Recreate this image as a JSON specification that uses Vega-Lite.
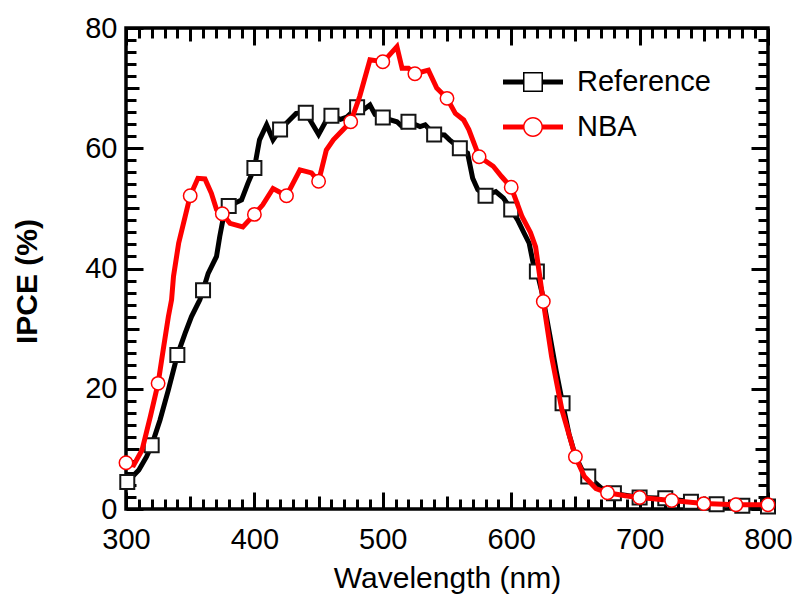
{
  "$schema": "https://vega.github.io/schema/vega-lite/v6.json",
  "width": 642,
  "height": 481,
  "autosize": "none",
  "padding": {"left": 126, "top": 28, "right": 29, "bottom": 87},
  "background": "white",
  "config": {
    "view": {"stroke": "black", "strokeWidth": 3.5},
    "axis": {
      "grid": false,
      "domain": false,
      "tickColor": "black",
      "tickWidth": 3,
      "labelFont": "Liberation Sans",
      "labelFontSize": 29,
      "labelColor": "black",
      "titleFont": "Liberation Sans",
      "titleColor": "black",
      "labelFlush": false,
      "labelOverlap": false
    }
  },
  "datasets": {
    "lines": [
      {"series": "Reference", "wavelength": 301, "ipce": 4.5},
      {"series": "Reference", "wavelength": 310, "ipce": 6.5},
      {"series": "Reference", "wavelength": 316, "ipce": 8.7},
      {"series": "Reference", "wavelength": 320, "ipce": 10.6},
      {"series": "Reference", "wavelength": 326.5, "ipce": 14.8},
      {"series": "Reference", "wavelength": 333, "ipce": 19.8},
      {"series": "Reference", "wavelength": 340, "ipce": 25.6},
      {"series": "Reference", "wavelength": 346, "ipce": 29.2},
      {"series": "Reference", "wavelength": 351, "ipce": 32},
      {"series": "Reference", "wavelength": 357.5, "ipce": 34.8},
      {"series": "Reference", "wavelength": 360, "ipce": 36.4},
      {"series": "Reference", "wavelength": 364, "ipce": 39.2},
      {"series": "Reference", "wavelength": 370.5, "ipce": 42},
      {"series": "Reference", "wavelength": 373, "ipce": 45.3},
      {"series": "Reference", "wavelength": 375.5, "ipce": 48.1},
      {"series": "Reference", "wavelength": 380, "ipce": 50.4},
      {"series": "Reference", "wavelength": 390, "ipce": 51.4},
      {"series": "Reference", "wavelength": 395, "ipce": 54.2},
      {"series": "Reference", "wavelength": 400, "ipce": 56.7},
      {"series": "Reference", "wavelength": 404, "ipce": 61.4},
      {"series": "Reference", "wavelength": 409.5, "ipce": 63.9},
      {"series": "Reference", "wavelength": 414.5, "ipce": 61.4},
      {"series": "Reference", "wavelength": 420, "ipce": 63.1},
      {"series": "Reference", "wavelength": 432.5, "ipce": 65.8},
      {"series": "Reference", "wavelength": 440, "ipce": 65.9},
      {"series": "Reference", "wavelength": 450, "ipce": 62.3},
      {"series": "Reference", "wavelength": 458.5, "ipce": 65.6},
      {"series": "Reference", "wavelength": 460, "ipce": 65.4},
      {"series": "Reference", "wavelength": 467, "ipce": 64.8},
      {"series": "Reference", "wavelength": 472, "ipce": 65.2},
      {"series": "Reference", "wavelength": 480, "ipce": 66.8},
      {"series": "Reference", "wavelength": 485, "ipce": 66.4},
      {"series": "Reference", "wavelength": 490, "ipce": 67.2},
      {"series": "Reference", "wavelength": 494, "ipce": 65.6},
      {"series": "Reference", "wavelength": 500, "ipce": 65.1},
      {"series": "Reference", "wavelength": 511, "ipce": 64.4},
      {"series": "Reference", "wavelength": 515, "ipce": 63.6},
      {"series": "Reference", "wavelength": 520, "ipce": 64.4},
      {"series": "Reference", "wavelength": 529, "ipce": 63.6},
      {"series": "Reference", "wavelength": 533, "ipce": 63.9},
      {"series": "Reference", "wavelength": 540, "ipce": 62.3},
      {"series": "Reference", "wavelength": 548, "ipce": 62.2},
      {"series": "Reference", "wavelength": 552, "ipce": 61.4},
      {"series": "Reference", "wavelength": 560, "ipce": 60},
      {"series": "Reference", "wavelength": 566, "ipce": 59.2},
      {"series": "Reference", "wavelength": 570, "ipce": 55},
      {"series": "Reference", "wavelength": 574, "ipce": 53.1},
      {"series": "Reference", "wavelength": 580, "ipce": 52.1},
      {"series": "Reference", "wavelength": 588, "ipce": 52.8},
      {"series": "Reference", "wavelength": 594, "ipce": 51.7},
      {"series": "Reference", "wavelength": 600, "ipce": 49.8},
      {"series": "Reference", "wavelength": 605, "ipce": 48.1},
      {"series": "Reference", "wavelength": 610, "ipce": 45.9},
      {"series": "Reference", "wavelength": 614, "ipce": 44.2},
      {"series": "Reference", "wavelength": 617, "ipce": 41},
      {"series": "Reference", "wavelength": 620, "ipce": 39.5},
      {"series": "Reference", "wavelength": 624, "ipce": 36},
      {"series": "Reference", "wavelength": 630, "ipce": 29},
      {"series": "Reference", "wavelength": 635, "ipce": 23},
      {"series": "Reference", "wavelength": 640, "ipce": 17.6},
      {"series": "Reference", "wavelength": 645, "ipce": 12.5},
      {"series": "Reference", "wavelength": 650, "ipce": 8.8},
      {"series": "Reference", "wavelength": 655, "ipce": 6.6},
      {"series": "Reference", "wavelength": 660, "ipce": 5.4},
      {"series": "Reference", "wavelength": 670, "ipce": 3.5},
      {"series": "Reference", "wavelength": 680, "ipce": 2.6},
      {"series": "Reference", "wavelength": 700, "ipce": 1.9},
      {"series": "Reference", "wavelength": 720, "ipce": 1.8},
      {"series": "Reference", "wavelength": 740, "ipce": 1.2},
      {"series": "Reference", "wavelength": 760, "ipce": 0.8},
      {"series": "Reference", "wavelength": 780, "ipce": 0.55},
      {"series": "Reference", "wavelength": 800, "ipce": 0.4},
      {"series": "NBA", "wavelength": 300, "ipce": 7.7},
      {"series": "NBA", "wavelength": 306, "ipce": 7.3},
      {"series": "NBA", "wavelength": 312.5, "ipce": 9.8},
      {"series": "NBA", "wavelength": 319, "ipce": 15.4},
      {"series": "NBA", "wavelength": 325, "ipce": 20.9},
      {"series": "NBA", "wavelength": 329, "ipce": 26.5},
      {"series": "NBA", "wavelength": 333, "ipce": 32},
      {"series": "NBA", "wavelength": 335.5, "ipce": 34.8},
      {"series": "NBA", "wavelength": 337, "ipce": 38.7},
      {"series": "NBA", "wavelength": 341, "ipce": 44.2},
      {"series": "NBA", "wavelength": 346, "ipce": 48.6},
      {"series": "NBA", "wavelength": 350, "ipce": 52.1},
      {"series": "NBA", "wavelength": 356, "ipce": 55},
      {"series": "NBA", "wavelength": 361.5, "ipce": 54.9},
      {"series": "NBA", "wavelength": 366.5, "ipce": 52.5},
      {"series": "NBA", "wavelength": 370.5, "ipce": 49.8},
      {"series": "NBA", "wavelength": 375, "ipce": 49.1},
      {"series": "NBA", "wavelength": 381, "ipce": 47.5},
      {"series": "NBA", "wavelength": 391, "ipce": 46.9},
      {"series": "NBA", "wavelength": 400, "ipce": 49},
      {"series": "NBA", "wavelength": 406.5, "ipce": 50.6},
      {"series": "NBA", "wavelength": 414.5, "ipce": 53.3},
      {"series": "NBA", "wavelength": 425, "ipce": 52.1},
      {"series": "NBA", "wavelength": 435.5, "ipce": 56.4},
      {"series": "NBA", "wavelength": 444.5, "ipce": 55.9},
      {"series": "NBA", "wavelength": 450, "ipce": 54.5},
      {"series": "NBA", "wavelength": 456, "ipce": 59.7},
      {"series": "NBA", "wavelength": 461.5, "ipce": 61.4},
      {"series": "NBA", "wavelength": 475, "ipce": 64.4},
      {"series": "NBA", "wavelength": 482, "ipce": 68.6},
      {"series": "NBA", "wavelength": 490, "ipce": 74.7},
      {"series": "NBA", "wavelength": 500, "ipce": 74.4},
      {"series": "NBA", "wavelength": 503, "ipce": 75},
      {"series": "NBA", "wavelength": 511, "ipce": 76.9},
      {"series": "NBA", "wavelength": 515, "ipce": 73.3},
      {"series": "NBA", "wavelength": 520, "ipce": 73.3},
      {"series": "NBA", "wavelength": 525, "ipce": 72.4},
      {"series": "NBA", "wavelength": 535.5, "ipce": 73},
      {"series": "NBA", "wavelength": 542, "ipce": 70},
      {"series": "NBA", "wavelength": 550, "ipce": 68.3},
      {"series": "NBA", "wavelength": 556.5, "ipce": 65.8},
      {"series": "NBA", "wavelength": 563, "ipce": 64.7},
      {"series": "NBA", "wavelength": 567, "ipce": 63.1},
      {"series": "NBA", "wavelength": 575, "ipce": 58.6},
      {"series": "NBA", "wavelength": 586, "ipce": 57},
      {"series": "NBA", "wavelength": 592.5, "ipce": 55.3},
      {"series": "NBA", "wavelength": 600, "ipce": 53.5},
      {"series": "NBA", "wavelength": 608.5, "ipce": 48.6},
      {"series": "NBA", "wavelength": 615, "ipce": 46},
      {"series": "NBA", "wavelength": 619, "ipce": 43.6},
      {"series": "NBA", "wavelength": 625, "ipce": 34.5},
      {"series": "NBA", "wavelength": 631.5, "ipce": 25.3},
      {"series": "NBA", "wavelength": 639.5, "ipce": 16.5},
      {"series": "NBA", "wavelength": 650, "ipce": 8.7},
      {"series": "NBA", "wavelength": 657, "ipce": 5.4},
      {"series": "NBA", "wavelength": 666, "ipce": 3.4},
      {"series": "NBA", "wavelength": 675, "ipce": 2.7},
      {"series": "NBA", "wavelength": 689, "ipce": 2.2},
      {"series": "NBA", "wavelength": 700, "ipce": 1.9},
      {"series": "NBA", "wavelength": 725, "ipce": 1.4},
      {"series": "NBA", "wavelength": 750, "ipce": 0.9},
      {"series": "NBA", "wavelength": 775, "ipce": 0.7},
      {"series": "NBA", "wavelength": 800, "ipce": 0.7}
    ],
    "markers": [
      {"series": "Reference", "wavelength": 301, "ipce": 4.5},
      {"series": "Reference", "wavelength": 320, "ipce": 10.6},
      {"series": "Reference", "wavelength": 340, "ipce": 25.6},
      {"series": "Reference", "wavelength": 360, "ipce": 36.4},
      {"series": "Reference", "wavelength": 380, "ipce": 50.4},
      {"series": "Reference", "wavelength": 400, "ipce": 56.7},
      {"series": "Reference", "wavelength": 420, "ipce": 63.1},
      {"series": "Reference", "wavelength": 440, "ipce": 65.9},
      {"series": "Reference", "wavelength": 460, "ipce": 65.4},
      {"series": "Reference", "wavelength": 480, "ipce": 66.8},
      {"series": "Reference", "wavelength": 500, "ipce": 65.1},
      {"series": "Reference", "wavelength": 520, "ipce": 64.4},
      {"series": "Reference", "wavelength": 540, "ipce": 62.3},
      {"series": "Reference", "wavelength": 560, "ipce": 60},
      {"series": "Reference", "wavelength": 580, "ipce": 52.1},
      {"series": "Reference", "wavelength": 600, "ipce": 49.8},
      {"series": "Reference", "wavelength": 620, "ipce": 39.5},
      {"series": "Reference", "wavelength": 640, "ipce": 17.6},
      {"series": "Reference", "wavelength": 660, "ipce": 5.4},
      {"series": "Reference", "wavelength": 680, "ipce": 2.6},
      {"series": "Reference", "wavelength": 700, "ipce": 1.9},
      {"series": "Reference", "wavelength": 720, "ipce": 1.8},
      {"series": "Reference", "wavelength": 740, "ipce": 1.2},
      {"series": "Reference", "wavelength": 760, "ipce": 0.8},
      {"series": "Reference", "wavelength": 780, "ipce": 0.55},
      {"series": "Reference", "wavelength": 800, "ipce": 0.4},
      {"series": "NBA", "wavelength": 300, "ipce": 7.7},
      {"series": "NBA", "wavelength": 325, "ipce": 20.9},
      {"series": "NBA", "wavelength": 350, "ipce": 52.1},
      {"series": "NBA", "wavelength": 375, "ipce": 49.1},
      {"series": "NBA", "wavelength": 400, "ipce": 49},
      {"series": "NBA", "wavelength": 425, "ipce": 52.1},
      {"series": "NBA", "wavelength": 450, "ipce": 54.5},
      {"series": "NBA", "wavelength": 475, "ipce": 64.4},
      {"series": "NBA", "wavelength": 500, "ipce": 74.4},
      {"series": "NBA", "wavelength": 525, "ipce": 72.4},
      {"series": "NBA", "wavelength": 550, "ipce": 68.3},
      {"series": "NBA", "wavelength": 575, "ipce": 58.6},
      {"series": "NBA", "wavelength": 600, "ipce": 53.5},
      {"series": "NBA", "wavelength": 625, "ipce": 34.5},
      {"series": "NBA", "wavelength": 650, "ipce": 8.7},
      {"series": "NBA", "wavelength": 675, "ipce": 2.7},
      {"series": "NBA", "wavelength": 700, "ipce": 1.9},
      {"series": "NBA", "wavelength": 725, "ipce": 1.4},
      {"series": "NBA", "wavelength": 750, "ipce": 0.9},
      {"series": "NBA", "wavelength": 775, "ipce": 0.7},
      {"series": "NBA", "wavelength": 800, "ipce": 0.7}
    ]
  },
  "resolve": {"axis": {"x": "independent", "y": "independent"}},
  "layer": [
    {
      "data": {"name": "lines"},
      "transform": [{"filter": "datum.series === 'Reference'"}],
      "mark": {"type": "line", "strokeWidth": 5},
      "encoding": {
        "x": {
          "field": "wavelength", "type": "quantitative",
          "scale": {"domain": [300, 800], "nice": false, "zero": false},
          "axis": {
            "orient": "bottom",
            "values": [300,310,320,330,340,350,360,370,380,390,400,410,420,430,440,450,460,470,480,490,500,510,520,530,540,550,560,570,580,590,600,610,620,630,640,650,660,670,680,690,700,710,720,730,740,750,760,770,780,790,800],
            "labelExpr": "datum.value % 100 === 0 ? datum.label : ''",
            "tickSize": {"condition": [{"test": "datum.value % 100 === 0", "value": -17}, {"test": "datum.value % 50 === 0", "value": -13}], "value": -10},
            "labelPadding": 33,
            "title": "Wavelength (nm)",
            "titleFontSize": 30,
            "titleFontWeight": "normal",
            "titleY": 78,
            "titleBaseline": "alphabetic"
          }
        },
        "y": {
          "field": "ipce", "type": "quantitative",
          "scale": {"domain": [0, 80], "nice": false, "zero": false},
          "axis": {
            "orient": "left",
            "values": [0,2,4,6,8,10,12,14,16,18,20,22,24,26,28,30,32,34,36,38,40,42,44,46,48,50,52,54,56,58,60,62,64,66,68,70,72,74,76,78,80],
            "labelExpr": "datum.value % 20 === 0 ? datum.label : ''",
            "tickSize": {"condition": [{"test": "datum.value % 20 === 0", "value": -17}, {"test": "datum.value % 10 === 0", "value": -13}], "value": -10},
            "labelPadding": 26,
            "title": "IPCE (%)",
            "titleFontSize": 30,
            "titleFontWeight": "bold",
            "titleAngle": -90,
            "titleX": -90,
            "titleY": 253,
            "titleAlign": "center",
            "titleBaseline": "alphabetic"
          }
        },
        "color": {
          "field": "series", "type": "nominal",
          "scale": {"domain": ["Reference", "NBA"], "range": ["black", "red"]},
          "legend": {
            "orient": "none",
            "legendX": 377,
            "legendY": 24,
            "title": null,
            "padding": 0,
            "symbolSize": 3600,
            "symbolStrokeWidth": 0,
            "rowPadding": -25,
            "labelOffset": 14,
            "labelFont": "Liberation Sans",
            "labelFontSize": 29,
            "labelColor": "black",
            "labelBaseline": "middle",
            "encode": {
              "symbols": {
                "update": {
                  "shape": {"signal": "datum.value === 'Reference' ? 'M-1,-0.083H-0.3V0.083H-1Z M0.3,-0.083H1V0.083H0.3Z M-0.333,-0.333H0.333V0.333H-0.333Z M-0.283,-0.283V0.283H0.283V-0.283Z' : 'M-1,-0.083H-0.3V0.083H-1Z M0.3,-0.083H1V0.083H0.3Z M-0.333,0A0.333,0.333 0 1,1 0.333,0A0.333,0.333 0 1,1 -0.333,0Z M-0.283,0A0.283,0.283 0 1,0 0.283,0A0.283,0.283 0 1,0 -0.283,0Z'"},
                  "fill": {"scale": "color", "field": "value"},
                  "fillOpacity": {"value": 1},
                  "strokeWidth": {"value": 0},
                  "opacity": {"value": 1}
                }
              }
            }
          }
        }
      }
    },
    {
      "data": {"name": "markers"},
      "transform": [{"filter": "datum.series === 'Reference'"}],
      "mark": {"type": "point", "shape": "square", "size": 196, "fill": "white", "fillOpacity": 1, "stroke": "#151515", "strokeWidth": 2, "opacity": 1},
      "encoding": {
        "x": {"field": "wavelength", "type": "quantitative", "axis": null},
        "y": {"field": "ipce", "type": "quantitative", "axis": null}
      }
    },
    {
      "data": {"name": "lines"},
      "transform": [{"filter": "datum.series === 'NBA'"}],
      "mark": {"type": "line", "strokeWidth": 5},
      "encoding": {
        "x": {
          "field": "wavelength", "type": "quantitative",
          "axis": {
            "orient": "top",
            "values": [300,310,320,330,340,350,360,370,380,390,400,410,420,430,440,450,460,470,480,490,500,510,520,530,540,550,560,570,580,590,600,610,620,630,640,650,660,670,680,690,700,710,720,730,740,750,760,770,780,790,800],
            "labels": false,
            "title": null,
            "tickSize": {"condition": [{"test": "datum.value % 100 === 0", "value": -17}, {"test": "datum.value % 50 === 0", "value": -13}], "value": -10}
          }
        },
        "y": {
          "field": "ipce", "type": "quantitative",
          "axis": {
            "orient": "right",
            "values": [0,2,4,6,8,10,12,14,16,18,20,22,24,26,28,30,32,34,36,38,40,42,44,46,48,50,52,54,56,58,60,62,64,66,68,70,72,74,76,78,80],
            "labels": false,
            "title": null,
            "tickSize": {"condition": [{"test": "datum.value % 20 === 0", "value": -17}, {"test": "datum.value % 10 === 0", "value": -13}], "value": -10}
          }
        },
        "color": {"field": "series", "type": "nominal"}
      }
    },
    {
      "data": {"name": "markers"},
      "transform": [{"filter": "datum.series === 'NBA'"}],
      "mark": {"type": "point", "shape": "circle", "size": 180, "fill": "white", "fillOpacity": 1, "stroke": "red", "strokeWidth": 1.5, "opacity": 1},
      "encoding": {
        "x": {"field": "wavelength", "type": "quantitative", "axis": null},
        "y": {"field": "ipce", "type": "quantitative", "axis": null}
      }
    }
  ]
}
